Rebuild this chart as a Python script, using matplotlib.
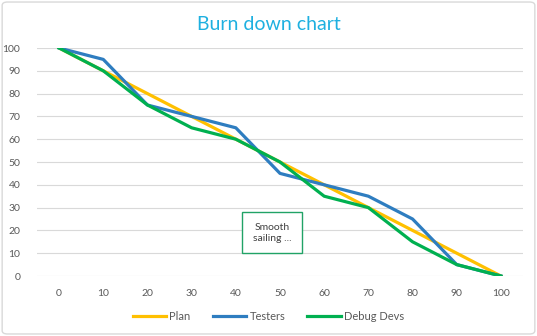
import numpy as np
import matplotlib.pyplot as plt
from matplotlib.patches import FancyBboxPatch

days = [0, 10, 20, 30, 40, 50, 60, 70, 80, 90, 100]
plan = [100, 90, 80, 70, 60, 50, 40, 30, 20, 10, 0]
testers = [100, 95, 75, 70, 65, 45, 40, 35, 25, 5, 0]
debug_devs = [100, 90, 75, 65, 60, 50, 35, 30, 15, 5, 0]

plt.rcParams['font.family'] = ['Lato', 'DejaVu Sans']
grey = '#595959'

fig = plt.figure(figsize=(5.37, 3.36), dpi=100)
fig.patches.append(FancyBboxPatch((0.004, 0.006), 0.992, 0.988,
                                  boxstyle='round,pad=0,rounding_size=0.01',
                                  transform=fig.transFigure, facecolor='white',
                                  edgecolor='#D9D9D9', linewidth=1, zorder=-1))
ax = fig.add_axes([37 / 537, 60 / 336, 486 / 537, 228 / 336])

x = np.arange(len(days))
ax.plot(x, plan, color='#FFC000', lw=2.3, label='Plan', solid_joinstyle='round')
ax.plot(x, testers, color='#2E7DC0', lw=2.3, label='Testers', solid_joinstyle='round')
ax.plot(x, debug_devs, color='#00B050', lw=2.3, label='Debug Devs', solid_joinstyle='round')

ax.set_xlim(-0.5, len(days) - 0.5)
ax.set_ylim(0, 100)
ax.set_xticks(x)
ax.set_xticklabels([str(d) for d in days])
ax.set_yticks(range(0, 101, 10))
ax.tick_params(axis='both', length=0, labelsize=7.5, colors=grey)
ax.tick_params(axis='x', pad=9)
ax.tick_params(axis='y', pad=12)
ax.grid(axis='y', color='#D9D9D9', lw=0.8)
ax.set_axisbelow(True)
for s in ax.spines.values():
    s.set_visible(False)

ax.text(4.82, 19, 'Smooth\nsailing ...', ha='center', va='center', fontsize=7.5,
        color='#404040', linespacing=1.3,
        bbox=dict(boxstyle='square,pad=1.0', facecolor='white', edgecolor='#21A366', lw=1))

fig.text(0.5, 0.928, 'Burn down chart', ha='center', va='center', fontsize=14,
         color='#1EB0E0')

fig.legend(loc='center', bbox_to_anchor=(0.5, 0.058), ncol=3, frameon=False,
           fontsize=8, labelcolor=grey, handlelength=3.0, handletextpad=0.3,
           columnspacing=2.0)

fig.savefig('out.png', dpi=100)
